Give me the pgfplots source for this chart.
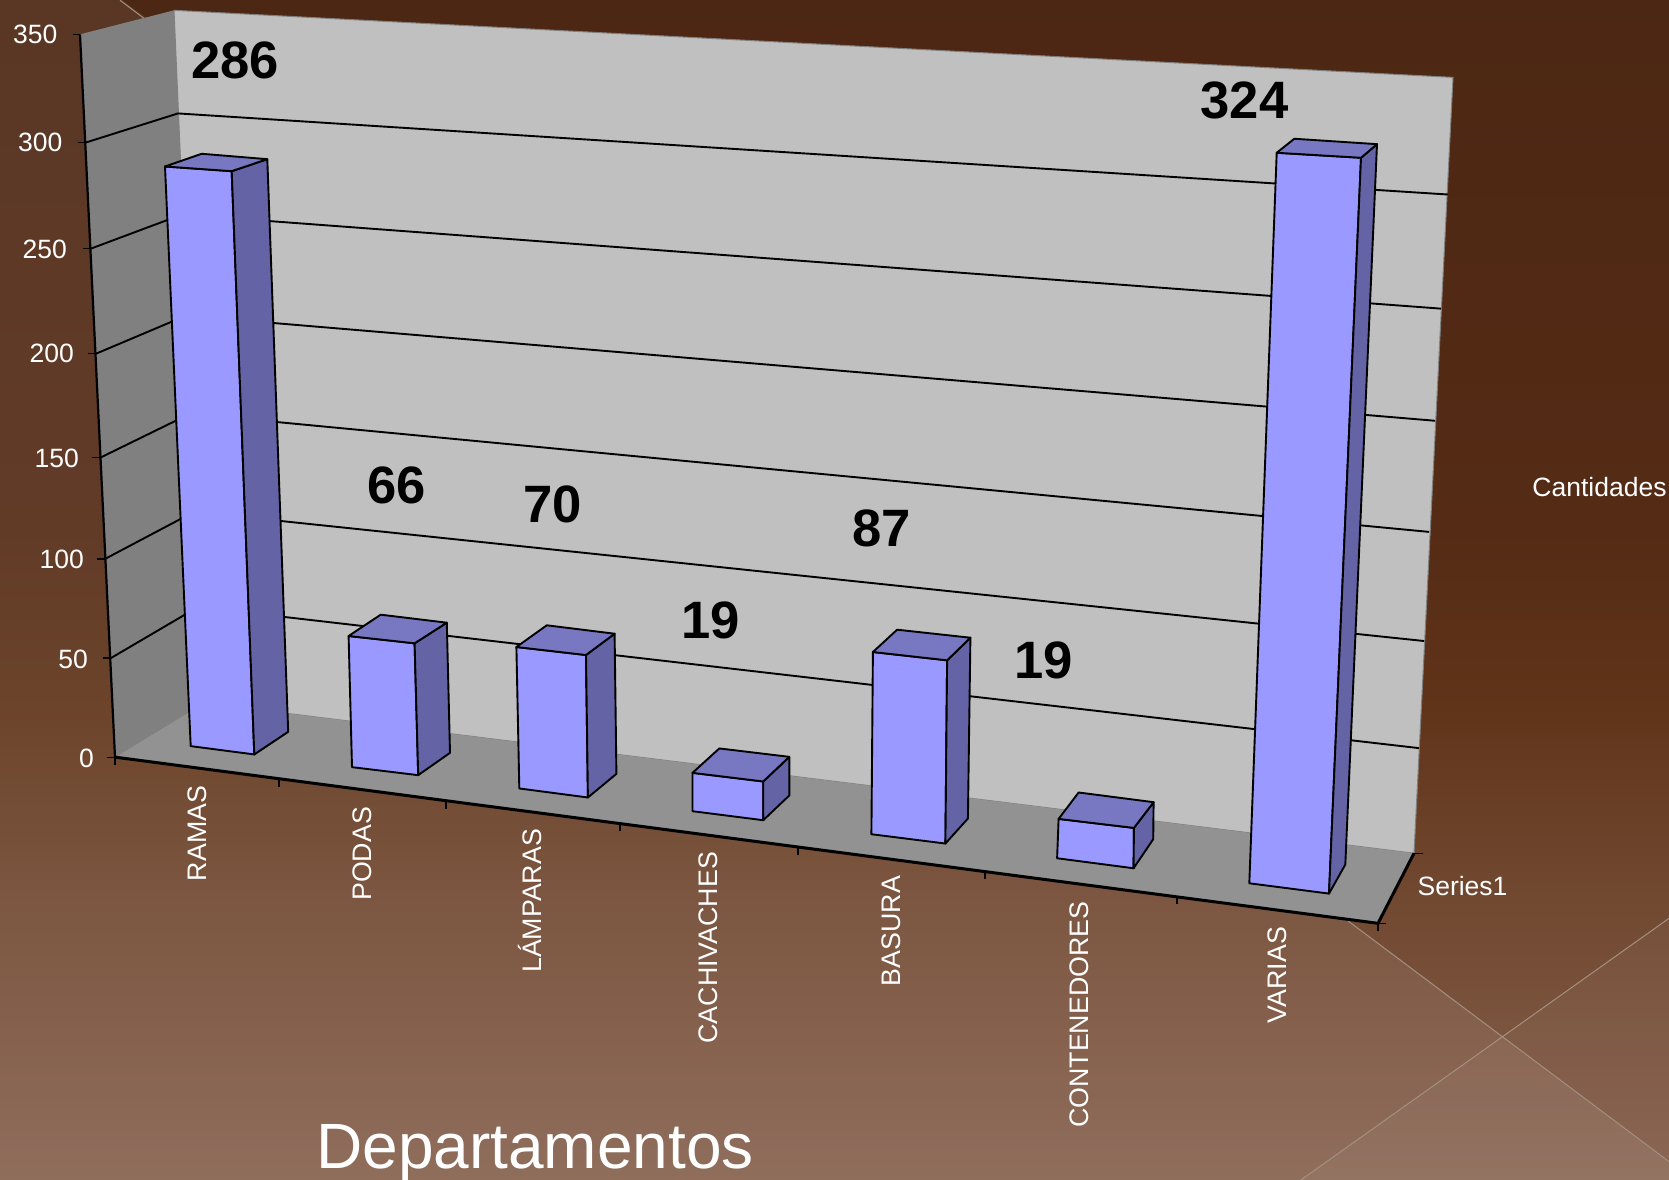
\documentclass[border=0pt]{standalone}
\usepackage{fontspec}
\setmainfont{Liberation Sans}
\usepackage{pgfplots}
\pgfplotsset{compat=1.18}
\definecolor{bgA}{HTML}{4C2713}
\definecolor{bgB}{HTML}{552B15}
\definecolor{bgC}{HTML}{603419}
\definecolor{bgD}{HTML}{70472F}
\definecolor{bgE}{HTML}{87624F}
\definecolor{wallB}{HTML}{C0C0C0}
\definecolor{wallL}{HTML}{808080}
\definecolor{floorC}{HTML}{929292}
\definecolor{barF}{HTML}{9999FF}
\definecolor{barS}{HTML}{6363A6}
\definecolor{barT}{HTML}{7777C2}
\definecolor{deco}{HTML}{A3907F}
\pgfdeclareverticalshading{bgshade}{100bp}{color(0bp)=(bgE); color(25bp)=(bgE); color(37.5bp)=(bgD); color(45bp)=(bgC); color(52.5bp)=(bgB); color(75bp)=(bgA); color(100bp)=(bgA)}
% FTL FTR BTR BTL FBL FBR BBR
\newcommand{\barbox}[7]{%
  \addplot[fill=barF,draw=black,line width=1.9pt,line join=round,forget plot] coordinates {#1 #2 #6 #5} -- cycle;
  \addplot[fill=barS,draw=black,line width=1.9pt,line join=round,forget plot] coordinates {#2 #3 #7 #6} -- cycle;
  \addplot[fill=barT,draw=black,line width=1.9pt,line join=round,forget plot] coordinates {#1 #2 #3 #4} -- cycle;
}
\newcommand{\cat}[3]{\node[rotate=90,anchor=east,font=\fontsize{26.8}{26.8}\selectfont,text=white,inner sep=0pt] at (axis cs:#1,#2) {#3};}
\newcommand{\val}[3]{\node[anchor=center,font=\fontsize{52.6}{52.6}\selectfont\bfseries,text=black,inner sep=0pt] at (axis cs:#1,#2) {#3};}
\newcommand{\tk}[3]{\node[anchor=east,font=\fontsize{26.5}{26.5}\selectfont,text=white,inner sep=0pt] at (axis cs:#1,#2) {#3};}
\begin{document}
\begin{tikzpicture}
\begin{axis}[scale only axis,width=1669pt,height=1179.6pt,xmin=0,xmax=1669,ymin=-0.3,ymax=1178,y dir=reverse,hide axis,clip=true]
% background
\addplot[draw=none,shading=bgshade,shading angle=0,forget plot] coordinates {(0,-2) (1669,-2) (1669,1179) (0,1179)} -- cycle;
\addplot[draw=none,fill=white,fill opacity=0.08,forget plot] coordinates {(120,-2) (1669,1160) (1669,1179) (0,1179) (0,-2)} -- cycle;
\addplot[draw=none,fill=white,fill opacity=0.035,forget plot] coordinates {(1669,917) (1300,1179) (1669,1179)} -- cycle;
\addplot[deco,line width=1pt,forget plot] coordinates {(120,0) (1669,1160)};
\addplot[deco,line width=1pt,forget plot] coordinates {(1669,917) (1300,1179)};
% walls and floor
\addplot[fill=wallB,draw=gray,line width=1pt,forget plot] coordinates {(174,10) (1453,77) (1414,852) (204,702)} -- cycle;
\addplot[fill=wallL,draw=none,forget plot] coordinates {(80,34) (174,10) (204,702) (115,756)} -- cycle;
\addplot[fill=floorC,draw=none,forget plot] coordinates {(115,756) (204,702) (1414,852) (1378,922)} -- cycle;
% gridlines
\addplot[black,line width=1.9pt,forget plot] coordinates {(86,142) (178,113) (1448,194)};
\addplot[black,line width=1.9pt,forget plot] coordinates {(91,248) (182,214) (1441,308)};
\addplot[black,line width=1.9pt,forget plot] coordinates {(96,353) (186,315) (1435,420)};
\addplot[black,line width=1.9pt,forget plot] coordinates {(100,457) (190,413) (1429,531)};
\addplot[black,line width=1.9pt,forget plot] coordinates {(105,558) (194,511) (1424,640)};
\addplot[black,line width=1.9pt,forget plot] coordinates {(111,657) (198,606) (1419,747)};
% axes
\addplot[black,line width=2.2pt,forget plot] coordinates {(80,34) (115,756)};
\addplot[black,line width=3pt,forget plot] coordinates {(115,756) (1378,922) (1414,852)};
\addplot[black,line width=1.2pt,forget plot] coordinates {(73,34) (80,34)};
\addplot[black,line width=1.2pt,forget plot] coordinates {(78,142) (86,142)};
\addplot[black,line width=1.2pt,forget plot] coordinates {(83,248) (91,248)};
\addplot[black,line width=1.2pt,forget plot] coordinates {(88,353) (96,353)};
\addplot[black,line width=1.2pt,forget plot] coordinates {(92,457) (100,457)};
\addplot[black,line width=1.2pt,forget plot] coordinates {(97,558) (105,558)};
\addplot[black,line width=1.2pt,forget plot] coordinates {(103,657) (111,657)};
\addplot[black,line width=1.2pt,forget plot] coordinates {(107,756) (115,756)};
\addplot[black,line width=1.2pt,forget plot] coordinates {(115,756) (115,764)};
\addplot[black,line width=1.2pt,forget plot] coordinates {(279,778) (279,786)};
\addplot[black,line width=1.2pt,forget plot] coordinates {(446,800) (446,808)};
\addplot[black,line width=1.2pt,forget plot] coordinates {(620,823) (620,830)};
\addplot[black,line width=1.2pt,forget plot] coordinates {(798,847) (798,854)};
\addplot[black,line width=1.2pt,forget plot] coordinates {(985,872) (985,878)};
\addplot[black,line width=1.2pt,forget plot] coordinates {(1177,897) (1177,903)};
\addplot[black,line width=1.2pt,forget plot] coordinates {(1378,922) (1378,930)};
\addplot[black,line width=1.2pt,forget plot] coordinates {(1378,922) (1386,922)};
\addplot[black,line width=1.2pt,forget plot] coordinates {(1414,852) (1423,852)};
% bars
\barbox{(165,166)}{(231.7,170.7)}{(267.3,158.7)}{(201.7,153.3)}{(190.7,745)}{(254.3,753.3)}{(288.2,730.7)}
\barbox{(348.6,635)}{(414.6,642.3)}{(446.8,621.7)}{(380.7,613.7)}{(352,766)}{(418.2,774)}{(450,751.7)}
\barbox{(516.4,646)}{(586,654)}{(614.6,632.7)}{(546.8,624.3)}{(519.3,787.3)}{(587.9,796.3)}{(616.4,772.7)}
\barbox{(692.5,771.7)}{(763.2,780.3)}{(789.3,755.7)}{(719.3,747.3)}{(692.5,810)}{(763.2,819)}{(789.3,794.3)}
\barbox{(872.9,651)}{(947.1,659.3)}{(970.4,636.7)}{(897.1,628.7)}{(871.4,833)}{(945.4,842.3)}{(967.9,817.3)}
\barbox{(1058.6,817.7)}{(1133.9,826.7)}{(1153.6,801)}{(1078.6,791.3)}{(1057.1,857)}{(1133.6,867)}{(1153.2,838)}
\barbox{(1276.7,152.3)}{(1361,157.3)}{(1377,143.7)}{(1294.3,138.3)}{(1249.3,882)}{(1329,892.3)}{(1345.3,863.3)}
% value labels
\val{235}{60.5}{286}
\val{396.5}{484.5}{66}
\val{552.5}{503.5}{70}
\val{710.5}{619.5}{19}
\val{881.5}{527.5}{87}
\val{1043.5}{659.5}{19}
\val{1244.5}{100}{324}
% value-axis labels
\tk{57.5}{34}{350}
\tk{62.5}{142}{300}
\tk{67}{248.5}{250}
\tk{74}{353}{200}
\tk{79}{457.5}{150}
\tk{84}{558}{100}
\tk{88}{658}{50}
\tk{94}{757}{0}
% category labels
\cat{197}{784.5}{RAMAS}
\cat{362}{805.5}{PODAS}
\cat{530}{827.5}{LÁMPARAS}
\cat{708}{850.5}{CACHIVACHES}
\cat{891}{874.5}{BASURA}
\cat{1079.5}{900}{CONTENEDORES}
\cat{1277}{925.5}{VARIAS}
% other text
\node[font=\fontsize{26.5}{26.5}\selectfont,text=white,inner sep=0pt] at (axis cs:1462.5,885) {Series1};
\node[font=\fontsize{26.5}{26.5}\selectfont,text=white,inner sep=0pt] at (axis cs:1599.5,486) {Cantidades};
\node[font=\fontsize{64}{64}\selectfont,text=white,inner sep=0pt] at (axis cs:535,1152) {Departamentos};
\end{axis}
\end{tikzpicture}
\end{document}
